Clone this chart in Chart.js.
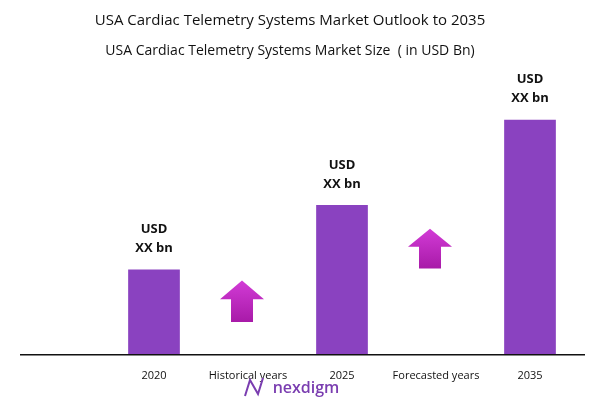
<!DOCTYPE html>
<html>
<head>
<meta charset="utf-8">
<script src="https://cdn.jsdelivr.net/npm/chart.js@4"></script>
<style>
  html, body { margin: 0; padding: 0; background: #fff; }
  #wrap { width: 594px; height: 405px; position: relative; }
</style>
</head>
<body>
<div id="wrap"><canvas id="marketChart"></canvas></div>
<script>
// Chart data
const categories = ['2020', 'Historical years', '2025', 'Forecasted years', '2035'];
const marketSize = [86, null, 151, null, 237];
const barLabels = ['USD', 'XX bn'];
// growth arrows: [bottom, top] in value units, placed on the gap categories
const arrowSpans = [null, [33, 75], null, [87, 127], null];

const barColor = '#8a42c0';

// Titles, baseline, value labels, arrows and logo
const decorPlugin = {
    id: 'decor',
    afterDraw(chart) {
        const ctx = chart.ctx;
        const x = chart.scales.x;
        const y = chart.scales.y;
        ctx.save();
        ctx.fillStyle = '#111';
        ctx.textAlign = 'center';
        ctx.textBaseline = 'middle';
        ctx.font = '500 15px "Open Sans", sans-serif';
        ctx.fillText('USA Cardiac Telemetry Systems Market Outlook to 2035', 290, 21);
        ctx.font = '500 14px "Open Sans", sans-serif';
        ctx.fillText('USA Cardiac Telemetry Systems Market Size  ( in USD Bn)', 290, 51);

        // baseline
        ctx.strokeStyle = '#111';
        ctx.lineWidth = 1.5;
        ctx.beginPath();
        ctx.moveTo(20, y.getPixelForValue(0));
        ctx.lineTo(585, y.getPixelForValue(0));
        ctx.stroke();

        // value labels
        ctx.font = 'bold 13px "Open Sans", sans-serif';
        marketSize.forEach((v, i) => {
            if (v == null) return;
            const px = x.getPixelForValue(i);
            const top = y.getPixelForValue(v);
            ctx.fillText(barLabels[0], px, top - 40);
            ctx.fillText(barLabels[1], px, top - 21);
        });

        // arrows
        arrowSpans.forEach((s, i) => {
            if (!s) return;
            const cx = x.getPixelForValue(i) - 6;
            const yb = y.getPixelForValue(s[0]);
            const yt = y.getPixelForValue(s[1]);
            const headH = (yb - yt) * 0.45;
            const g = ctx.createLinearGradient(cx, yt, cx, yb);
            g.addColorStop(0, '#d23bd6');
            g.addColorStop(1, '#a81aa8');
            ctx.fillStyle = g;
            ctx.beginPath();
            ctx.moveTo(cx, yt);
            ctx.lineTo(cx + 22, yt + headH);
            ctx.lineTo(cx + 11, yt + headH);
            ctx.lineTo(cx + 11, yb);
            ctx.lineTo(cx - 11, yb);
            ctx.lineTo(cx - 11, yt + headH);
            ctx.lineTo(cx - 22, yt + headH);
            ctx.closePath();
            ctx.fill();
        });

        // logo
        ctx.fillStyle = '#7a3db0';
        ctx.font = '600 16px "Open Sans", sans-serif';
        ctx.fillText('nexdigm', 306, 388);
        ctx.strokeStyle = '#7a3db0';
        ctx.lineWidth = 2;
        ctx.beginPath();
        ctx.moveTo(245, 396);
        ctx.lineTo(250, 380);
        ctx.lineTo(258, 394);
        ctx.lineTo(263, 378);
        ctx.stroke();
        ctx.restore();
    }
};

new Chart(document.getElementById('marketChart').getContext('2d'), {
    type: 'bar',
    data: {
        labels: categories,
        datasets: [{
            data: marketSize,
            backgroundColor: barColor,
            barPercentage: 0.55,
            categoryPercentage: 1
        }]
    },
    options: {
        responsive: true,
        maintainAspectRatio: false,
        animation: false,
        layout: { padding: { top: 82, left: 107, right: 17, bottom: 17 } },
        plugins: { legend: { display: false }, tooltip: { enabled: false } },
        scales: {
            x: {
                grid: { display: false },
                border: { display: false },
                ticks: {
                    color: '#111',
                    padding: 6,
                    maxRotation: 0,
                    font: { family: '"Open Sans", sans-serif', size: 11, weight: '500' }
                }
            },
            y: {
                display: false,
                min: 0,
                max: 275
            }
        }
    },
    plugins: [decorPlugin]
});
</script>
</body>
</html>
